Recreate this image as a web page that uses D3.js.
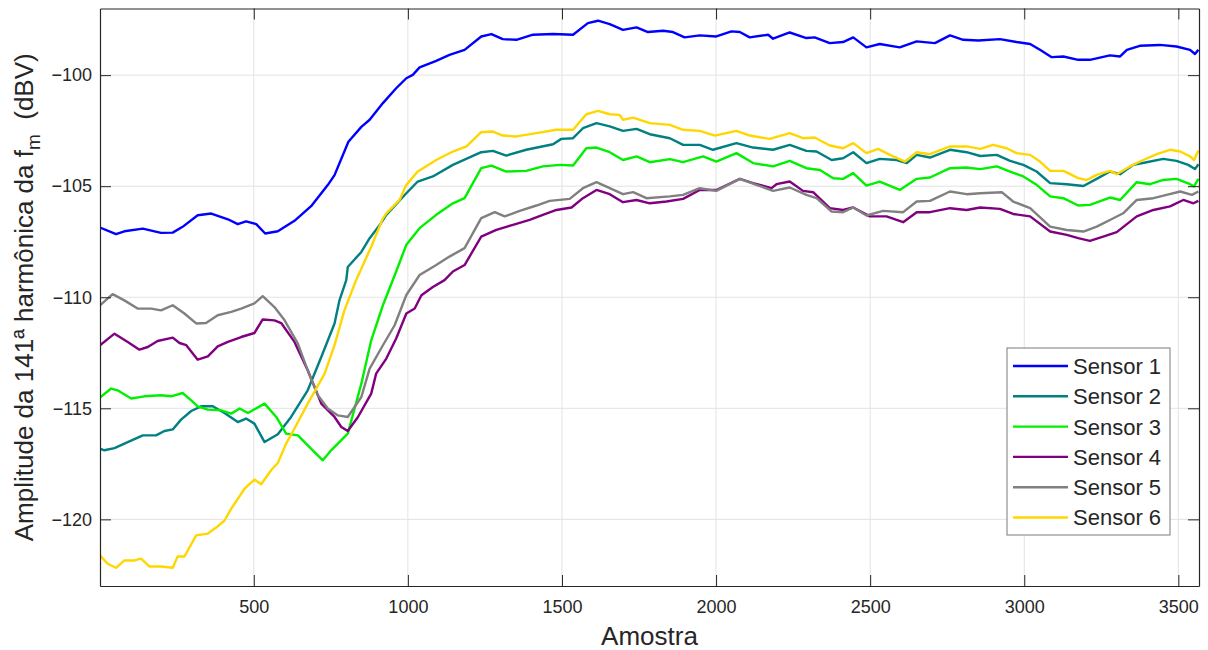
<!DOCTYPE html>
<html>
<head>
<meta charset="utf-8">
<script src="https://cdn.jsdelivr.net/npm/d3@7"></script>
<style>
  body { margin: 0; background: #ffffff; }
  text { font-family: "Liberation Sans", Arial, sans-serif; fill: #262626; }
</style>
</head>
<body>
<div id="container"></div>
<script>
/* DATA */
const sensorNames = ["Sensor 1", "Sensor 2", "Sensor 3", "Sensor 4", "Sensor 5", "Sensor 6"];
const sensorColors = ["#0000ff", "#008080", "#00f000", "#800080", "#808080", "#ffd700"];
const xTicks = [500, 1000, 1500, 2000, 2500, 3000, 3500];
const yTicks = [-120, -115, -110, -105, -100];

const s1Samples = [1,53,80,140,199,237,269,318,362,416,448,475,508,537,578,632,686,740,762,807,849,876,919,962,995,1016,1038,1092,1135,1184,1238,1271,1308,1352,1406,1471,1536,1584,1617,1655,1698,1742,1779,1828,1860,1898,1947,2001,2050,2077,2109,2169,2185,2239,2293,2320,2369,2412,2445,2488,2531,2596,2651,2710,2759,2802,2851,2921,2975,3019,3051,3089,3127,3175,3213,3278,3311,3333,3375,3440,3494,3538,3554,3565];
const s1Values = [-106.86,-107.16,-107.03,-106.91,-107.10,-107.09,-106.83,-106.31,-106.23,-106.49,-106.71,-106.58,-106.71,-107.13,-107.03,-106.56,-105.90,-104.95,-104.50,-103.00,-102.33,-102.01,-101.26,-100.59,-100.14,-99.99,-99.65,-99.36,-99.09,-98.86,-98.26,-98.15,-98.38,-98.41,-98.18,-98.15,-98.18,-97.66,-97.55,-97.70,-97.96,-97.85,-98.06,-98.00,-98.06,-98.30,-98.21,-98.26,-98.03,-98.06,-98.30,-98.18,-98.36,-98.08,-98.33,-98.30,-98.56,-98.51,-98.30,-98.75,-98.60,-98.75,-98.48,-98.56,-98.21,-98.41,-98.44,-98.38,-98.51,-98.60,-98.86,-99.19,-99.16,-99.31,-99.31,-99.11,-99.16,-98.86,-98.68,-98.64,-98.71,-98.86,-99.05,-98.86];

const s2Samples = [1,15,48,91,140,183,210,237,264,297,329,367,405,448,475,502,535,578,621,675,719,762,778,800,805,849,876,908,930,995,1032,1081,1146,1238,1276,1319,1384,1471,1498,1536,1568,1612,1655,1698,1742,1785,1850,1893,1947,1990,2066,2120,2185,2239,2293,2326,2375,2412,2445,2488,2531,2586,2619,2651,2694,2759,2813,2857,2911,2954,2997,3040,3084,3138,3192,3235,3278,3311,3354,3397,3451,3494,3532,3554,3565];
const s2Values = [-116.82,-116.89,-116.79,-116.52,-116.22,-116.22,-116.02,-115.95,-115.51,-115.12,-114.91,-114.91,-115.21,-115.62,-115.46,-115.69,-116.52,-116.17,-115.39,-114.19,-112.69,-111.18,-110.14,-109.23,-108.64,-107.96,-107.34,-106.76,-106.29,-105.32,-104.79,-104.56,-104.04,-103.47,-103.41,-103.62,-103.36,-103.11,-102.87,-102.84,-102.39,-102.16,-102.31,-102.51,-102.42,-102.66,-102.84,-103.14,-103.14,-103.36,-103.06,-103.26,-103.36,-103.14,-103.41,-103.44,-103.82,-103.74,-103.47,-103.96,-103.77,-103.82,-103.96,-103.59,-103.71,-103.36,-103.47,-103.64,-103.59,-103.86,-104.04,-104.34,-104.86,-104.91,-104.99,-104.67,-104.34,-104.46,-104.04,-103.92,-103.77,-103.86,-104.04,-104.23,-104.01];

const s3Samples = [1,37,58,102,145,199,232,269,297,318,351,394,427,454,481,535,573,605,643,697,724,751,805,849,881,919,962,995,1038,1092,1146,1184,1238,1271,1319,1384,1438,1493,1536,1579,1612,1655,1698,1742,1785,1850,1893,1958,2001,2066,2120,2185,2239,2293,2337,2380,2412,2445,2488,2531,2596,2651,2694,2759,2813,2857,2911,2954,2997,3040,3084,3127,3175,3213,3278,3311,3365,3408,3451,3494,3538,3551,3565];
const s3Values = [-114.52,-114.11,-114.19,-114.56,-114.46,-114.41,-114.46,-114.31,-114.64,-114.91,-115.06,-115.09,-115.24,-115.01,-115.21,-114.79,-115.39,-116.14,-116.22,-116.97,-117.34,-116.89,-116.14,-113.89,-111.94,-110.36,-108.84,-107.64,-106.89,-106.29,-105.77,-105.54,-104.19,-104.07,-104.34,-104.31,-104.11,-104.04,-104.07,-103.29,-103.26,-103.47,-103.82,-103.66,-103.92,-103.78,-103.92,-103.66,-103.89,-103.51,-103.96,-104.11,-103.86,-104.19,-104.27,-104.64,-104.67,-104.41,-104.97,-104.79,-105.17,-104.67,-104.61,-104.19,-104.16,-104.23,-104.11,-104.34,-104.56,-104.94,-105.46,-105.54,-105.87,-105.84,-105.51,-105.62,-104.82,-104.91,-104.72,-104.67,-104.91,-105.01,-104.67];

const s4Samples = [1,48,91,129,156,188,237,259,281,318,351,383,416,459,502,529,567,589,632,675,719,762,784,805,838,881,897,930,962,995,1022,1044,1081,1119,1146,1184,1238,1287,1341,1395,1438,1482,1531,1568,1612,1655,1698,1742,1785,1839,1893,1947,2001,2077,2120,2180,2196,2239,2282,2315,2369,2412,2445,2499,2553,2607,2651,2694,2759,2813,2857,2921,2964,3019,3084,3138,3175,3213,3256,3300,3365,3419,3473,3516,3549,3565];
const s4Values = [-112.16,-111.64,-112.01,-112.36,-112.24,-111.97,-111.82,-112.06,-112.16,-112.81,-112.66,-112.21,-112.01,-111.79,-111.61,-111.00,-111.04,-111.16,-112.01,-113.29,-114.79,-115.39,-115.84,-116.02,-115.39,-114.34,-113.44,-112.76,-111.86,-110.73,-110.51,-109.91,-109.54,-109.23,-108.84,-108.55,-107.27,-106.97,-106.74,-106.52,-106.29,-106.07,-105.96,-105.54,-105.17,-105.36,-105.72,-105.62,-105.77,-105.69,-105.57,-105.17,-105.17,-104.67,-104.86,-105.09,-104.91,-104.79,-105.21,-105.27,-105.99,-106.07,-105.96,-106.36,-106.36,-106.62,-106.17,-106.17,-105.99,-106.07,-105.96,-106.02,-106.25,-106.36,-107.04,-107.19,-107.34,-107.46,-107.27,-107.07,-106.36,-106.07,-105.91,-105.62,-105.77,-105.66];

const s5Samples = [1,42,80,123,167,199,237,275,313,345,383,427,459,502,529,567,600,643,675,708,740,773,805,849,876,919,957,995,1038,1092,1135,1184,1238,1282,1314,1363,1417,1460,1525,1568,1612,1655,1698,1731,1774,1850,1893,1947,2001,2077,2131,2185,2239,2293,2326,2375,2412,2445,2488,2542,2607,2651,2694,2759,2813,2857,2927,2964,3019,3084,3138,3192,3235,3278,3321,3365,3419,3462,3506,3544,3565];
const s5Values = [-110.36,-109.86,-110.14,-110.51,-110.51,-110.59,-110.36,-110.73,-111.18,-111.16,-110.81,-110.66,-110.51,-110.28,-109.95,-110.44,-111.04,-112.09,-113.29,-114.41,-115.01,-115.32,-115.39,-114.49,-113.21,-112.16,-111.26,-109.90,-109.00,-108.55,-108.17,-107.79,-106.44,-106.17,-106.36,-106.11,-105.87,-105.66,-105.57,-105.09,-104.82,-105.09,-105.36,-105.27,-105.54,-105.46,-105.39,-105.09,-105.21,-104.67,-104.94,-105.21,-105.06,-105.39,-105.54,-106.14,-106.17,-105.96,-106.32,-106.11,-106.17,-105.69,-105.66,-105.24,-105.36,-105.32,-105.27,-105.69,-105.99,-106.82,-106.97,-107.04,-106.82,-106.52,-106.22,-105.62,-105.54,-105.39,-105.24,-105.39,-105.24];

const s6Samples = [1,26,53,80,113,134,161,199,237,253,275,313,351,378,405,427,470,502,524,556,578,605,632,675,730,762,794,832,881,919,930,973,995,1032,1092,1146,1190,1238,1276,1308,1352,1417,1482,1536,1579,1617,1655,1687,1698,1731,1785,1850,1893,1947,1996,2066,2109,2174,2239,2282,2320,2369,2412,2445,2488,2526,2564,2613,2651,2694,2759,2813,2857,2899,2943,2975,3019,3051,3084,3127,3175,3203,3235,3278,3300,3343,3386,3430,3473,3506,3538,3551,3565];
const s6Values = [-121.62,-122.00,-122.18,-121.85,-121.85,-121.77,-122.12,-122.12,-122.18,-121.67,-121.67,-120.72,-120.64,-120.37,-120.05,-119.52,-118.62,-118.21,-118.42,-117.79,-117.46,-116.59,-115.91,-114.79,-113.44,-112.16,-110.59,-109.23,-107.73,-106.45,-106.22,-105.62,-104.94,-104.34,-103.82,-103.44,-103.21,-102.57,-102.54,-102.72,-102.76,-102.61,-102.46,-102.46,-101.76,-101.61,-101.76,-101.79,-102.01,-101.91,-102.16,-102.24,-102.46,-102.51,-102.72,-102.51,-102.72,-102.87,-102.61,-102.84,-102.81,-103.17,-103.29,-103.06,-103.51,-103.32,-103.59,-103.89,-103.47,-103.56,-103.21,-103.21,-103.32,-103.14,-103.29,-103.51,-103.59,-103.89,-104.31,-104.31,-104.64,-104.72,-104.49,-104.31,-104.46,-104.11,-103.82,-103.56,-103.36,-103.44,-103.66,-103.82,-103.39];

const allSamples = [s1Samples, s2Samples, s3Samples, s4Samples, s5Samples, s6Samples];
const allValues = [s1Values, s2Values, s3Values, s4Values, s5Values, s6Values];

/* CONSTANTS */
const width = 1208;
const height = 650;
const margin = { top: 8.5, right: 9, bottom: 64, left: 100 };
const axisColor = "#262626";

const svg = d3.select("#container")
  .append("svg")
  .attr("width", width)
  .attr("height", height)
  .style("display", "block")
  .style("background-color", "#ffffff");

/* SCALES */
const xScale = d3.scaleLinear()
  .domain([1, 3567])
  .range([margin.left, width - margin.right]);

const yScale = d3.scaleLinear()
  .domain([-123, -97])
  .range([height - margin.bottom, margin.top]);

const x0 = xScale.range()[0], x1 = xScale.range()[1];
const y0 = yScale.range()[1], y1 = yScale.range()[0];

// grid
svg.append("g")
  .selectAll("line")
  .data(xTicks)
  .join("line")
  .attr("x1", d => xScale(d)).attr("x2", d => xScale(d))
  .attr("y1", y0).attr("y2", y1)
  .attr("stroke", "#e3e3e3")
  .attr("stroke-width", 1);

svg.append("g")
  .selectAll("line")
  .data(yTicks)
  .join("line")
  .attr("x1", x0).attr("x2", x1)
  .attr("y1", d => yScale(d)).attr("y2", d => yScale(d))
  .attr("stroke", "#e3e3e3")
  .attr("stroke-width", 1);

/* LINES */
svg.append("clipPath")
  .attr("id", "plotClip")
  .append("rect")
  .attr("x", x0).attr("y", y0)
  .attr("width", x1 - x0).attr("height", y1 - y0);

const line = d3.line()
  .x(d => xScale(d[0]))
  .y(d => yScale(d[1]));

const series = sensorNames.map((name, i) => ({
  name: name,
  color: sensorColors[i],
  points: allSamples[i].map((s, j) => [s, allValues[i][j]])
}));

svg.append("g")
  .attr("clip-path", "url(#plotClip)")
  .selectAll("path")
  .data(series)
  .join("path")
  .attr("d", d => line(d.points))
  .attr("fill", "none")
  .attr("stroke", d => d.color)
  .attr("stroke-width", 2.4)
  .attr("stroke-linejoin", "round");

/* AXES */
const styleAxis = g => {
  g.select(".domain").attr("stroke", axisColor);
  g.selectAll(".tick line").attr("stroke", axisColor);
  g.selectAll("text").style("font-size", "18px").attr("fill", axisColor);
};

svg.append("g")
  .attr("transform", `translate(0,${y1})`)
  .call(d3.axisBottom(xScale).tickValues(xTicks).tickSizeInner(-11).tickSizeOuter(0).tickPadding(14).tickFormat(d3.format("d")))
  .call(styleAxis);

svg.append("g")
  .attr("transform", `translate(0,${y0})`)
  .call(d3.axisTop(xScale).tickValues(xTicks).tickSizeInner(-11).tickSizeOuter(0).tickFormat(""))
  .call(styleAxis);

svg.append("g")
  .attr("transform", `translate(${x0},0)`)
  .call(d3.axisLeft(yScale).tickValues(yTicks).tickSizeInner(-11).tickSizeOuter(0).tickPadding(8).tickFormat(d3.format("d")))
  .call(styleAxis);

svg.append("g")
  .attr("transform", `translate(${x1},0)`)
  .call(d3.axisRight(yScale).tickValues(yTicks).tickSizeInner(-11).tickSizeOuter(0).tickFormat(""))
  .call(styleAxis);

svg.selectAll(".tick text").attr("font-family", null);
svg.selectAll(".domain").attr("stroke-width", 1.2);

// axis labels
svg.append("text")
  .attr("x", (x0 + x1) / 2)
  .attr("y", 645)
  .attr("text-anchor", "middle")
  .style("font-size", "26px")
  .text("Amostra");

const yLabel = svg.append("text")
  .attr("transform", `translate(33,${(y0 + y1) / 2}) rotate(-90)`)
  .attr("text-anchor", "middle")
  .style("font-size", "26px");
yLabel.append("tspan").text("Amplitude da 141ª harmônica da f");
yLabel.append("tspan").attr("dy", 7).style("font-size", "19px").text("m");
yLabel.append("tspan").attr("dy", -7).text("\u00a0\u00a0(dBV)");

/* LEGEND */
const legend = svg.append("g");
legend.append("rect")
  .attr("x", 1007).attr("y", 348)
  .attr("width", 163).attr("height", 187)
  .attr("fill", "#ffffff")
  .attr("stroke", "#7a7a7a")
  .attr("stroke-width", 1);

const rowY = d3.scalePoint()
  .domain(sensorNames)
  .range([366, 517.5]);

const rows = legend.selectAll("g.row")
  .data(series)
  .join("g")
  .attr("class", "row")
  .attr("transform", d => `translate(0,${rowY(d.name)})`);

rows.append("line")
  .attr("x1", 1013).attr("x2", 1068)
  .attr("stroke", d => d.color)
  .attr("stroke-width", 2.4);

rows.append("text")
  .attr("x", 1073)
  .attr("dy", "0.36em")
  .style("font-size", "22px")
  .attr("fill", "#000000")
  .text(d => d.name);
</script>
</body>
</html>
